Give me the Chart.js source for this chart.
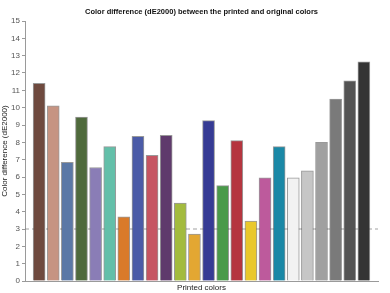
<!DOCTYPE html>
<html>
<head>
<meta charset="utf-8">
<script src="https://cdn.jsdelivr.net/npm/chart.js@4"></script>
<style>
  html, body { margin: 0; padding: 0; background: #fff; }
  #wrap { width: 390px; height: 293px; }
</style>
</head>
<body>
<div id="wrap"><canvas id="deChart"></canvas></div>
<script>
// colour patches, in print order
const categories = ['Brown', 'Light skin', 'Blue sky', 'Foliage', 'Blue flower', 'Bluish green',
    'Orange', 'Purplish blue', 'Moderate red', 'Purple', 'Yellow green', 'Orange yellow',
    'Blue', 'Green', 'Red', 'Yellow', 'Magenta', 'Cyan',
    'White', 'Neutral 8', 'Neutral 6.5', 'Neutral 5', 'Neutral 3.5', 'Black'];
const deValues = [11.4, 10.1, 6.85, 9.45, 6.55, 7.75,
    3.7, 8.35, 7.25, 8.4, 4.5, 2.7,
    9.25, 5.5, 8.1, 3.45, 5.95, 7.75,
    5.95, 6.35, 8.0, 10.5, 11.55, 12.65];
const barColors = ['#6f4a3f', '#c69482', '#5b78a6', '#4f6a3c', '#8a7db6', '#63bfa9',
    '#d97a2a', '#4b5ba7', '#c65562', '#5f3a6c', '#a3bb3e', '#e3a732',
    '#363b94', '#4a9a4a', '#b5353f', '#e9c82b', '#bd5a9c', '#1a88a6',
    '#f2f2f2', '#c6c6c6', '#a0a0a0', '#7a7a7a', '#535353', '#343434'];
const yTicks = [0, 1, 2, 3, 4, 5, 6, 7, 8, 9, 10, 11, 12, 13, 14, 15];
const threshold = 3;

const FONT = "'Liberation Sans', Arial, sans-serif";

// dashed threshold line, behind the bars
const thresholdLine = {
    id: 'thresholdLine',
    beforeDatasetsDraw(chart) {
        const { ctx, chartArea, scales } = chart;
        const y = scales.y.getPixelForValue(threshold);
        ctx.save();
        ctx.strokeStyle = '#7a7a7a';
        ctx.lineWidth = 0.7;
        ctx.setLineDash([4, 3]);
        ctx.beginPath();
        ctx.moveTo(chartArea.left, y);
        ctx.lineTo(chartArea.right, y);
        ctx.stroke();
        ctx.restore();
    }
};

new Chart(document.getElementById('deChart'), {
    type: 'bar',
    data: {
        labels: categories,
        datasets: [{
            label: 'dE2000',
            data: deValues.map((v, i) => ({ x: i + 1, y: v })),
            backgroundColor: barColors,
            borderColor: 'rgba(70,70,70,0.55)',
            borderWidth: 1,
            barThickness: 12
        }]
    },
    options: {
        responsive: true,
        maintainAspectRatio: false,
        animation: false,
        layout: { padding: { left: 0, right: 12, top: 0, bottom: 0 } },
        scales: {
            x: {
                type: 'linear',
                offset: false,
                min: 0,
                max: 25,
                grid: { display: false },
                border: { color: '#9a9a9a', width: 1 },
                ticks: { display: false },
                title: {
                    display: true,
                    text: 'Printed colors',
                    color: '#222',
                    font: { family: FONT, size: 8 },
                    padding: { top: 1, bottom: 0 }
                },
                afterFit(scale) { scale.height = 12; }
            },
            y: {
                min: 0,
                max: 15,
                afterBuildTicks(scale) { scale.ticks = yTicks.map(v => ({ value: v })); },
                grid: { drawOnChartArea: false, tickLength: 3, color: '#9a9a9a' },
                border: { color: '#9a9a9a', width: 1 },
                ticks: {
                    color: '#555',
                    font: { family: FONT, size: 8 },
                    padding: 2
                },
                title: {
                    display: true,
                    text: 'Color difference (dE2000)',
                    color: '#222',
                    font: { family: FONT, size: 8 },
                    padding: { top: 0, bottom: 0 }
                },
                afterFit(scale) { scale.width = 25; }
            }
        },
        plugins: {
            legend: { display: false },
            tooltip: { enabled: false },
            title: {
                display: true,
                fullSize: false,
                text: 'Color difference (dE2000) between the printed and original colors',
                color: '#111',
                font: { family: FONT, size: 7.5, weight: 'bold' },
                padding: { top: 7, bottom: 5 }
            }
        }
    },
    plugins: [thresholdLine]
});
</script>
</body>
</html>
